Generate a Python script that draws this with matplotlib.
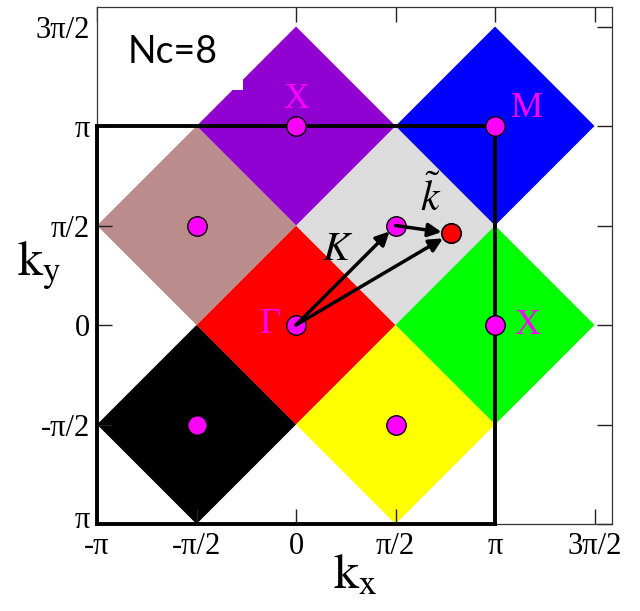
import numpy as np
import matplotlib.pyplot as plt
import matplotlib.transforms as mtransforms
from matplotlib.patches import Polygon, Rectangle

pi = np.pi

# cluster momenta K (in units of pi) and the colour of each patch
kx = [0.0, 0.5, 0.0, 1.0, -0.5, 1.0, -0.5, 0.5]
ky = [0.0, 0.5, 1.0, 1.0, 0.5, 0.0, -0.5, -0.5]
colors = ['#ff0000', '#dcdcdc', '#9000d0', '#0000ff', '#bb8c8c', '#00ff00', '#000000', '#ffff00']
half = 0.5  # half diagonal of each patch

# point k = K + k~ inside the grey patch
kpt = (0.78, 0.46)

# symmetry point labels
sym_names = ['Γ', 'X', 'M', 'X']
sym_x = [-0.13, 0.0, 1.16, 1.16]
sym_y = [0.005, 1.135, 1.09, 0.0]

ticks = [-1.0, -0.5, 0.0, 0.5, 1.0, 1.5]
xticklabels = ['-π', '-π/2', '0', 'π/2', 'π', '3π/2']
yticklabels = ['π', '-π/2', '0', 'π/2', 'π', '3π/2']

serif = ['Liberation Serif', 'DejaVu Serif']
plt.rcParams['mathtext.fontset'] = 'stix'

fig = plt.figure(figsize=(6.4, 6.11), dpi=100)
ax = fig.add_axes([0.1516, 0.1424, 0.8047, 0.8461])

# patches
for cx, cy, c in zip(kx, ky, colors):
    verts = [((cx - half) * pi, cy * pi), (cx * pi, (cy + half) * pi),
             ((cx + half) * pi, cy * pi), (cx * pi, (cy - half) * pi)]
    ax.add_patch(Polygon(verts, closed=True, facecolor=c, edgecolor='none', zorder=1))

# first Brillouin zone
ax.plot([-pi, pi, pi], [pi, pi, -pi], color='k', lw=2.8, zorder=3, clip_on=False)
ax.plot([-pi, -pi], [pi, -pi], color='k', lw=2.8, zorder=3, clip_on=False)
ax.plot([-pi, pi], [-pi, -pi], color='k', lw=2.8, zorder=3, clip_on=False)

# K points
ax.plot(np.array(kx) * pi, np.array(ky) * pi, 'o', ms=14, mfc='#ff00ff', mec='k', mew=1.0, zorder=4)
ax.plot(kpt[0] * pi, kpt[1] * pi, 'o', ms=14, mfc='#ff0000', mec='k', mew=1.2, zorder=6)

# vectors K, k~ and K + k~
arr = dict(arrowstyle='-|>', color='k', lw=2.5, mutation_scale=20, shrinkA=0)
ax.annotate('', xy=(0.47 * pi, 0.47 * pi), xytext=(0, 0),
            arrowprops=dict(arr, shrinkB=0), zorder=5)
ax.annotate('', xy=(kpt[0] * pi, kpt[1] * pi), xytext=(0, 0),
            arrowprops=dict(arr, shrinkB=7), zorder=5)
ax.annotate('', xy=(kpt[0] * pi, kpt[1] * pi), xytext=(0.5 * pi, 0.5 * pi),
            arrowprops=dict(arr, shrinkB=7), zorder=5)
ax.text(0.21 * pi, 0.38 * pi, r'$K$', fontsize=29, ha='center', va='center', zorder=7)
ax.text(0.675 * pi, 0.64 * pi, r'$\tilde{k}$', fontsize=30, ha='center', va='center', zorder=7)

for name, x, y in zip(sym_names, sym_x, sym_y):
    ax.text(x * pi, y * pi, name, color='#ff00ff', fontsize=26, family=serif,
            ha='center', va='center', zorder=7)

# label box
ax.add_patch(Rectangle((-pi, 1.183 * pi), 0.734 * pi, 0.5 * pi, facecolor='white',
                       edgecolor='none', zorder=2))
ax.text(-0.62 * pi, 1.373 * pi, 'Nc=8', fontsize=27, family=['Lato', 'DejaVu Sans'],
        ha='center', va='center', zorder=7)

ax.set_xlim(-pi, 1.588 * pi)
ax.set_ylim(-pi, 1.598 * pi)
ax.set_xticks(np.array(ticks) * pi)
ax.set_yticks(np.array(ticks) * pi)
ax.set_xticklabels(xticklabels, family=serif, fontsize=22)
ax.set_yticklabels(yticklabels, family=serif, fontsize=22)
ax.tick_params(direction='in', length=11, width=1.0, top=True, right=True, color='#222222')
ax.tick_params(axis='x', pad=6)
ax.tick_params(axis='y', pad=5)
for s in ax.spines.values():
    s.set_linewidth(0.9)
    s.set_color('#333333')

# lift the lowest y label a little so it clears the -pi label below it
lowest = ax.get_yticklabels()[0]
lowest.set_transform(lowest.get_transform() +
                     mtransforms.ScaledTranslation(0, 5 / 72, fig.dpi_scale_trans))

ax.text(0.3 * pi, -1.255 * pi, r'$\mathrm{k}_{\mathrm{x}}$', fontsize=36,
        ha='center', va='center', clip_on=False)
ax.text(-1.29 * pi, 0.3 * pi, r'$\mathrm{k}_{\mathrm{y}}$', fontsize=36,
        ha='center', va='center', clip_on=False)

fig.savefig('out.png', dpi=100)
